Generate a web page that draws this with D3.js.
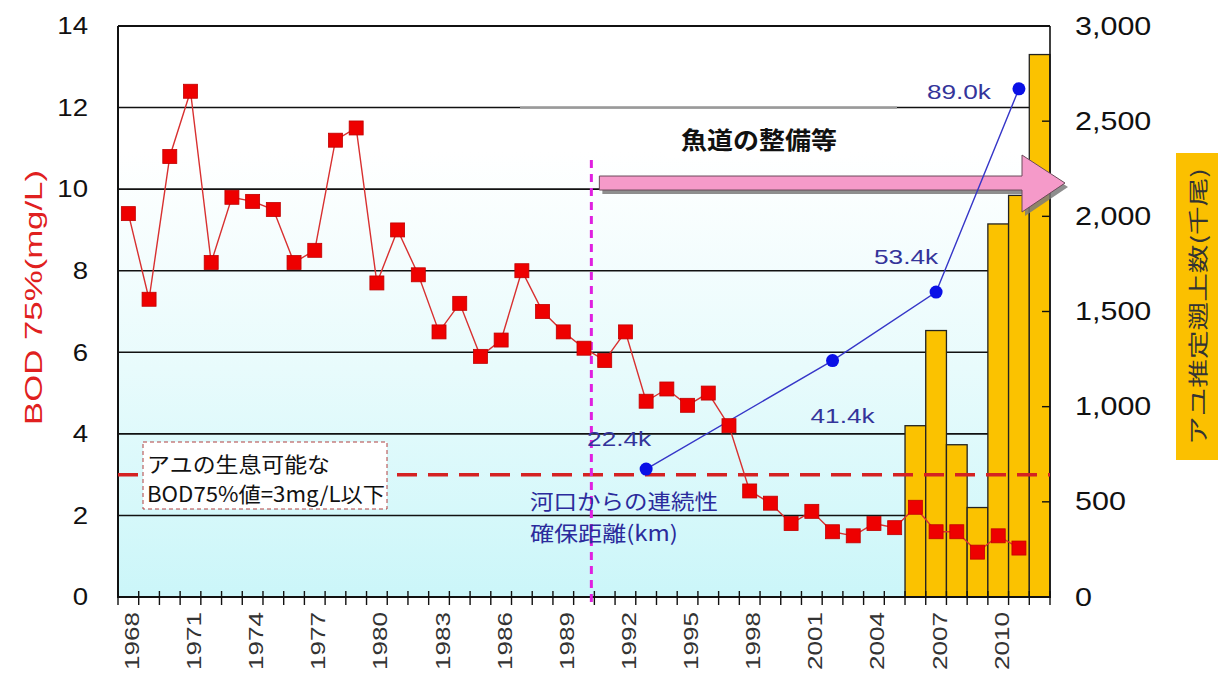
<!DOCTYPE html>
<html><head><meta charset="utf-8">
<script src="https://cdn.jsdelivr.net/npm/d3@7"></script>
<style>body{margin:0;background:#fff} svg{display:block}</style>
</head><body><svg id="c" width="1225" height="675"></svg>
<script>
// ---------- data ----------
const years = ["1968","1969","1970","1971","1972","1973","1974","1975","1976","1977",
  "1978","1979","1980","1981","1982","1983","1984","1985","1986","1987","1988","1989",
  "1990","1991","1992","1993","1994","1995","1996","1997","1998","1999","2000","2001",
  "2002","2003","2004","2005","2006","2007","2008","2009","2010","2011","2012"];
const bodYears = ["1968","1969","1970","1971","1972","1973","1974","1975","1976","1977",
  "1978","1979","1980","1981","1982","1983","1984","1985","1986","1987","1988","1989",
  "1990","1991","1992","1993","1994","1995","1996","1997","1998","1999","2000","2001",
  "2002","2003","2004","2005","2006","2007","2008","2009","2010","2011"];
const bodValues = [9.4,7.3,10.8,12.4,8.2,9.8,9.7,9.5,8.2,8.5,
  11.2,11.5,7.7,9.0,7.9,6.5,7.2,5.9,6.3,8.0,7.0,6.5,
  6.1,5.8,6.5,4.8,5.1,4.7,5.0,4.2,2.6,2.3,1.8,2.1,
  1.6,1.5,1.8,1.7,2.2,1.6,1.6,1.1,1.5,1.2];
const ayuYears = ["2006","2007","2008","2009","2010","2011","2012"];
const ayuValues = [900,1400,800,470,1960,2110,2850];
const kmYears = ["1993","2002","2007","2011"];
const kmValues = [22.4,41.4,53.4,89.0];
const kmLabels = ["22.4k","41.4k","53.4k","89.0k"];
const leftTicks = [0,2,4,6,8,10,12,14];
const rightTicks = [0,500,1000,1500,2000,2500,3000];
const rightTickLabels = ["0","500","1,000","1,500","2,000","2,500","3,000"];
const xTickLabels = ["1968","1971","1974","1977","1980","1983","1986","1989","1992",
  "1995","1998","2001","2004","2007","2010"];
const bodLimit = 3;
const startYear = "1991";

// ---------- layout ----------
const L = 118, R = 1050, T = 26, B = 597;
const svg = d3.select("#c");
const x = d3.scaleBand().domain(years).range([L, R]).padding(0);
const yL = d3.scaleLinear().domain([0, 14]).range([B, T]);
const yR = d3.scaleLinear().domain([0, 3000]).range([B, T]);
const yK = d3.scaleLinear().domain([0, 100]).range([B, T]);
const cx = d => x(d) + x.bandwidth() / 2;
const latin = "Liberation Sans, Arial, sans-serif";
const jp = "'Noto Sans CJK JP', sans-serif";

const defs = svg.append("defs");
const grad = defs.append("linearGradient").attr("id", "bg")
  .attr("x1", 0).attr("y1", 0).attr("x2", 0).attr("y2", 1);
grad.append("stop").attr("offset", "0%").attr("stop-color", "#ffffff");
grad.append("stop").attr("offset", "22%").attr("stop-color", "#ffffff");
grad.append("stop").attr("offset", "60%").attr("stop-color", "#e8fbfc");
grad.append("stop").attr("offset", "100%").attr("stop-color", "#cbf6f9");

svg.append("rect").attr("x", L).attr("y", T).attr("width", R - L).attr("height", B - T)
  .attr("fill", "url(#bg)");

// white text box remnants near top
svg.append("rect").attr("x", 520).attr("y", yL(13.3)).attr("width", 377).attr("height", yL(12) - yL(13.3))
  .attr("fill", "#ffffff");

// grid lines
svg.append("g").selectAll("line").data(leftTicks.filter(d => d > 0 && d < 14)).join("line")
  .attr("x1", L).attr("x2", R).attr("y1", d => yL(d)).attr("y2", d => yL(d))
  .attr("stroke", "#111").attr("stroke-width", 1.6);
svg.append("line").attr("x1", 520).attr("x2", 897).attr("y1", yL(12)).attr("y2", yL(12))
  .attr("stroke", "#9a9a9a").attr("stroke-width", 2.2);

// bars
svg.append("g").selectAll("rect").data(ayuYears).join("rect")
  .attr("x", d => x(d)).attr("width", x.bandwidth())
  .attr("y", (d, i) => yR(ayuValues[i])).attr("height", (d, i) => B - yR(ayuValues[i]))
  .attr("fill", "#fbc200").attr("stroke", "#222").attr("stroke-width", 1.3);

// right axis inner ticks
svg.append("g").selectAll("line").data(rightTicks).join("line")
  .attr("x1", R - 8).attr("x2", R).attr("y1", d => yR(d)).attr("y2", d => yR(d))
  .attr("stroke", "#111").attr("stroke-width", 1.4);

// frame
svg.append("line").attr("x1", L).attr("x2", R).attr("y1", T).attr("y2", T).attr("stroke", "#111").attr("stroke-width", 2);
svg.append("line").attr("x1", L).attr("x2", L).attr("y1", T).attr("y2", B).attr("stroke", "#111").attr("stroke-width", 2);
svg.append("line").attr("x1", R).attr("x2", R).attr("y1", T).attr("y2", B).attr("stroke", "#111").attr("stroke-width", 1.6);
svg.append("line").attr("x1", L - 1).attr("x2", R + 1).attr("y1", B).attr("y2", B).attr("stroke", "#111").attr("stroke-width", 2.2);
// x ticks at band boundaries
const bounds = years.map(d => x(d)).concat([R]);
svg.append("g").selectAll("line").data(bounds).join("line")
  .attr("x1", d => d).attr("x2", d => d).attr("y1", B - 6).attr("y2", B + 8)
  .attr("stroke", "#111").attr("stroke-width", 1.4);

// BOD limit dashed line
svg.append("line").attr("x1", L).attr("x2", R).attr("y1", yL(bodLimit)).attr("y2", yL(bodLimit))
  .attr("stroke", "#d42222").attr("stroke-width", 3.5).attr("stroke-dasharray", "20,11");

// magenta vertical dashed line
const mx = x(startYear) - 3;
svg.append("line").attr("x1", mx).attr("x2", mx).attr("y1", 160).attr("y2", B + 7)
  .attr("stroke", "#e020e0").attr("stroke-width", 3).attr("stroke-dasharray", "8,6");

// pink arrow
const yc = yL(10.15), x0 = x(startYear) + 5, xb = R - 28, xt = R + 15;
const arrowPts = [[x0, yc - 7], [xb, yc - 7], [xb, yc - 28], [xt, yc], [xb, yc + 29], [xb, yc + 7], [x0, yc + 7]];
svg.append("polygon").attr("points", arrowPts.map(p => p.join(",")).join(" "))
  .attr("transform", "translate(3,4)").attr("fill", "#7a7a7a").attr("opacity", 0.85);
svg.append("polygon").attr("points", arrowPts.map(p => p.join(",")).join(" "))
  .attr("fill", "#f59ac9").attr("stroke", "#6b4a5a").attr("stroke-width", 1);

// white box and title annotation
svg.append("rect").attr("x", 667).attr("y", 115).attr("width", 183).attr("height", 43).attr("fill", "#fff");
svg.append("text").attr("x", 759).attr("y", 138).attr("text-anchor", "middle")
  .attr("dominant-baseline", "central").attr("font-family", jp).attr("font-weight", 700)
  .attr("font-size", 24).attr("fill", "#111").attr("textLength", 156).attr("lengthAdjust", "spacingAndGlyphs")
  .text("魚道の整備等");

// blue km line
const kmLine = d3.line().x((d, i) => cx(d)).y((d, i) => yK(kmValues[i]));
svg.append("path").datum(kmYears).attr("d", kmLine).attr("fill", "none")
  .attr("stroke", "#3636c8").attr("stroke-width", 1.4);
svg.append("g").selectAll("circle").data(kmYears).join("circle")
  .attr("cx", d => cx(d)).attr("cy", (d, i) => yK(kmValues[i])).attr("r", 6.5).attr("fill", "#0a10e6");
const kmOff = [[-27, -31], [10, 55], [-30, -36], [-60, 3]];
svg.append("g").selectAll("text").data(kmLabels).join("text")
  .attr("x", (d, i) => cx(kmYears[i]) + kmOff[i][0]).attr("y", (d, i) => yK(kmValues[i]) + kmOff[i][1])
  .attr("text-anchor", "middle").attr("dominant-baseline", "central")
  .attr("font-family", latin).attr("font-size", 21).attr("fill", "#34349a")
  .attr("textLength", 64).attr("lengthAdjust", "spacingAndGlyphs").text(d => d);

// BOD line
const bodLine = d3.line().x(d => cx(d)).y((d, i) => yL(bodValues[i]));
svg.append("path").datum(bodYears).attr("d", bodLine).attr("fill", "none")
  .attr("stroke", "#d83030").attr("stroke-width", 1.4);
svg.append("g").selectAll("rect").data(bodYears).join("rect")
  .attr("x", d => cx(d) - 7).attr("y", (d, i) => yL(bodValues[i]) - 7)
  .attr("width", 14).attr("height", 14).attr("fill", "#ee0000").attr("stroke", "#c00000").attr("stroke-width", 0.8);

// legend box
svg.append("rect").attr("x", 143).attr("y", 442).attr("width", 244).attr("height", 67)
  .attr("fill", "#fff").attr("stroke", "#b04040").attr("stroke-width", 1).attr("stroke-dasharray", "4,3");
svg.append("text").attr("x", 147).attr("y", 463).attr("dominant-baseline", "central")
  .attr("font-family", jp).attr("font-size", 21).attr("fill", "#111")
  .attr("textLength", 183).attr("lengthAdjust", "spacingAndGlyphs").text("アユの生息可能な");
svg.append("text").attr("x", 147).attr("y", 493).attr("dominant-baseline", "central")
  .attr("font-family", jp).attr("font-size", 21).attr("fill", "#111")
  .attr("textLength", 238).attr("lengthAdjust", "spacingAndGlyphs").text("BOD75%値=3mg/L以下");

// blue description
svg.append("text").attr("x", 530).attr("y", 500).attr("dominant-baseline", "central")
  .attr("font-family", jp).attr("font-size", 21).attr("fill", "#2b2b9c")
  .attr("textLength", 188).attr("lengthAdjust", "spacingAndGlyphs").text("河口からの連続性");
svg.append("text").attr("x", 530).attr("y", 532).attr("dominant-baseline", "central")
  .attr("font-family", jp).attr("font-size", 21).attr("fill", "#2b2b9c")
  .attr("textLength", 148).attr("lengthAdjust", "spacingAndGlyphs").text("確保距離(km)");

// left tick labels
svg.append("g").selectAll("text").data(leftTicks).join("text")
  .attr("transform", d => `translate(88,${yL(d)}) scale(1.15,1)`)
  .attr("text-anchor", "end").attr("dominant-baseline", "central")
  .attr("font-family", latin).attr("font-size", 24).attr("fill", "#111").text(d => d);

// right tick labels
svg.append("g").selectAll("text").data(rightTicks).join("text")
  .attr("transform", d => `translate(1075,${yR(d)}) scale(1.22,1)`)
  .attr("text-anchor", "start").attr("dominant-baseline", "central")
  .attr("font-family", latin).attr("font-size", 25).attr("fill", "#111")
  .text((d, i) => rightTickLabels[i]);

// x tick labels
svg.append("g").selectAll("text").data(xTickLabels).join("text")
  .attr("transform", d => `translate(${cx(d) + 3},612) rotate(-90)`)
  .attr("text-anchor", "end").attr("dominant-baseline", "central")
  .attr("font-family", latin).attr("font-size", 21).attr("fill", "#333")
  .attr("textLength", 58).attr("lengthAdjust", "spacingAndGlyphs").text(d => d);

// left axis title
svg.append("text").attr("transform", `translate(33,${(170 + 425) / 2}) rotate(-90)`)
  .attr("text-anchor", "middle").attr("dominant-baseline", "central")
  .attr("font-family", latin).attr("font-size", 24).attr("fill", "#e02020")
  .attr("textLength", 255).attr("lengthAdjust", "spacingAndGlyphs").text("BOD 75%(mg/L)");

// right axis title box
svg.append("rect").attr("x", 1176).attr("y", 153).attr("width", 42).attr("height", 307).attr("fill", "#fbc000");
svg.append("text").attr("transform", `translate(1197,${(153 + 460) / 2}) rotate(-90)`)
  .attr("text-anchor", "middle").attr("dominant-baseline", "central")
  .attr("font-family", jp).attr("font-size", 20).attr("fill", "#333")
  .attr("textLength", 277).attr("lengthAdjust", "spacingAndGlyphs").text("アユ推定遡上数(千尾)");
</script></body></html>
